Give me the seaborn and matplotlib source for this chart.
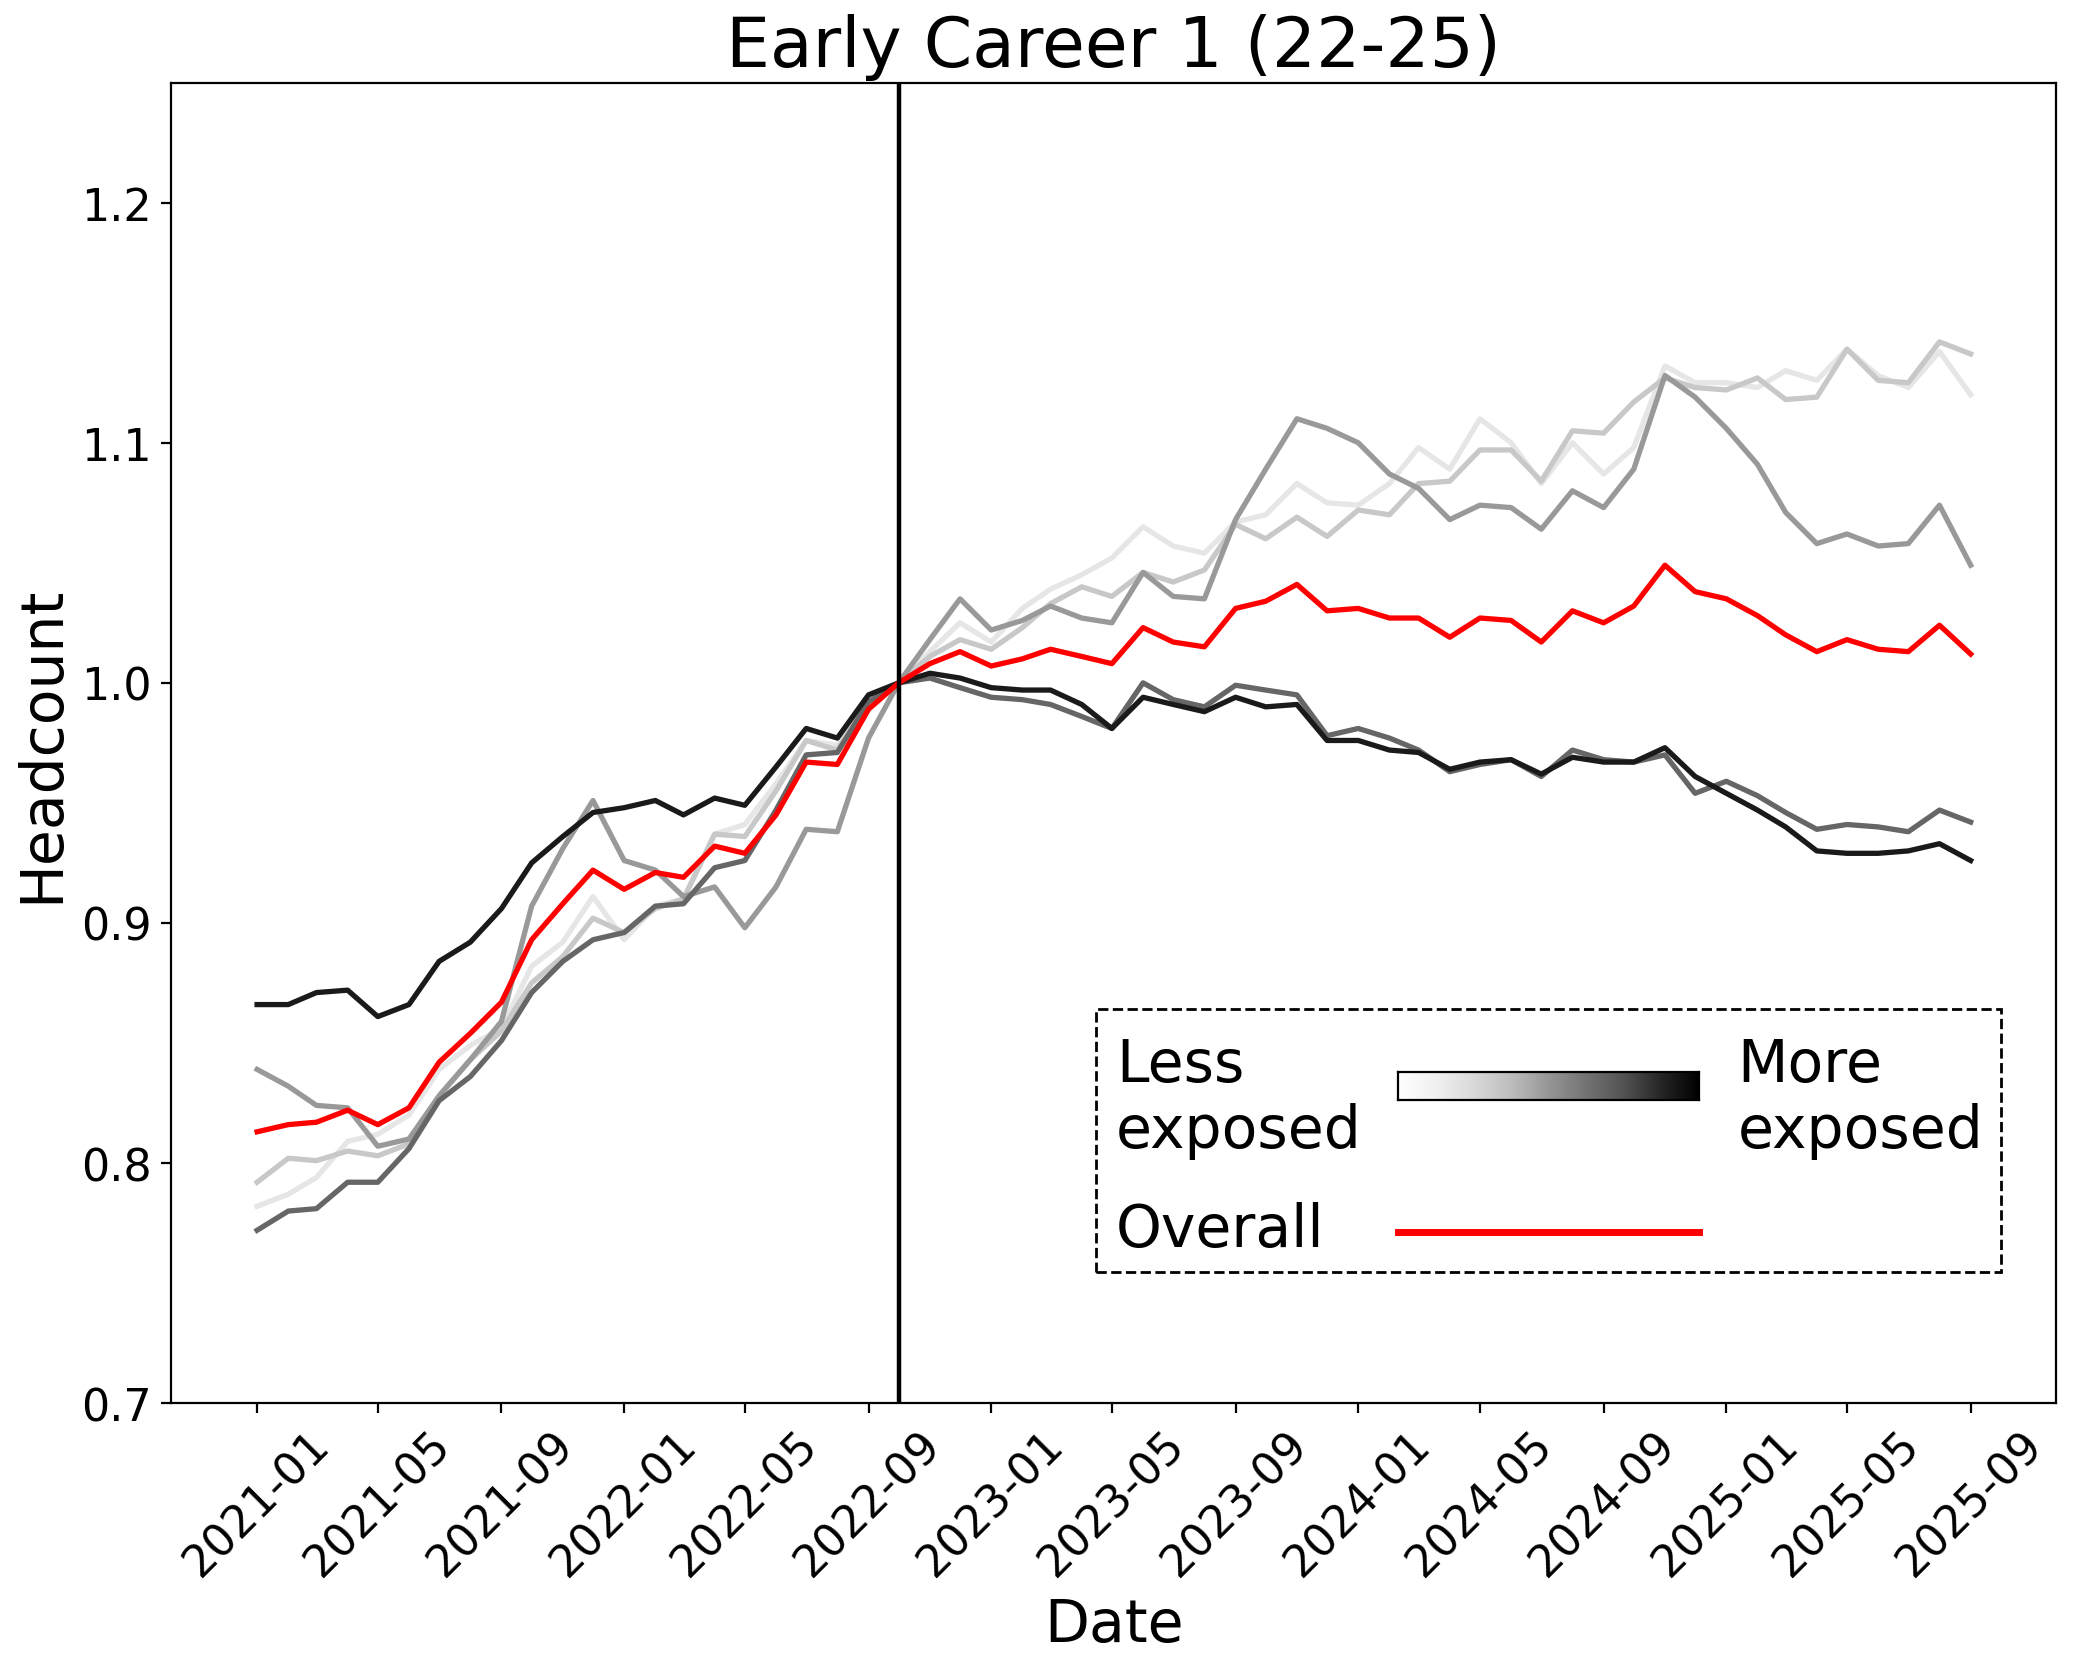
import numpy as np
import pandas as pd
import matplotlib
matplotlib.use('Agg')
import matplotlib.pyplot as plt
import matplotlib.dates as mdates
from matplotlib.patches import Rectangle
import seaborn as sns

# Monthly headcount, normalised to 1.0 at 2022-10, by AI exposure quintile
dates = pd.date_range('2021-01-01', '2025-09-01', freq='MS')
base_date = pd.Timestamp('2022-10-01')

q1_least = [0.782, 0.787, 0.794, 0.809, 0.812, 0.820, 0.839, 0.849, 0.856, 0.882, 0.892, 0.911,
            0.893, 0.907, 0.910, 0.937, 0.941, 0.958, 0.976, 0.974, 0.993,
            1.000, 1.013, 1.025, 1.017, 1.031, 1.039, 1.045, 1.052, 1.065, 1.057, 1.054, 1.067,
            1.070, 1.083, 1.075, 1.074, 1.083, 1.098, 1.089, 1.110, 1.100, 1.083, 1.100, 1.087,
            1.098, 1.132, 1.125, 1.125, 1.123, 1.130, 1.126, 1.139, 1.128, 1.123, 1.138, 1.120]
q2 = [0.792, 0.802, 0.801, 0.805, 0.803, 0.808, 0.828, 0.843, 0.855, 0.875, 0.886, 0.902,
      0.896, 0.906, 0.910, 0.937, 0.936, 0.955, 0.976, 0.972, 0.993,
      1.000, 1.011, 1.018, 1.014, 1.023, 1.033, 1.040, 1.036, 1.046, 1.042, 1.047, 1.066,
      1.060, 1.069, 1.061, 1.072, 1.070, 1.083, 1.084, 1.097, 1.097, 1.084, 1.105, 1.104,
      1.117, 1.127, 1.123, 1.122, 1.127, 1.118, 1.119, 1.139, 1.126, 1.125, 1.142, 1.137]
q3 = [0.839, 0.832, 0.824, 0.823, 0.807, 0.810, 0.828, 0.843, 0.859, 0.907, 0.931, 0.951,
      0.926, 0.922, 0.911, 0.915, 0.898, 0.915, 0.939, 0.938, 0.977,
      1.000, 1.018, 1.035, 1.022, 1.026, 1.032, 1.027, 1.025, 1.046, 1.036, 1.035, 1.068,
      1.089, 1.110, 1.106, 1.100, 1.087, 1.081, 1.068, 1.074, 1.073, 1.064, 1.080, 1.073,
      1.089, 1.128, 1.119, 1.106, 1.091, 1.071, 1.058, 1.062, 1.057, 1.058, 1.074, 1.049]
q4 = [0.772, 0.780, 0.781, 0.792, 0.792, 0.806, 0.826, 0.836, 0.851, 0.871, 0.884, 0.893,
      0.896, 0.907, 0.908, 0.923, 0.926, 0.947, 0.970, 0.971, 0.992,
      1.000, 1.002, 0.998, 0.994, 0.993, 0.991, 0.986, 0.981, 1.000, 0.993, 0.990, 0.999,
      0.997, 0.995, 0.978, 0.981, 0.977, 0.972, 0.963, 0.966, 0.968, 0.961, 0.972, 0.968,
      0.967, 0.970, 0.954, 0.959, 0.953, 0.946, 0.939, 0.941, 0.940, 0.938, 0.947, 0.942]
q5_most = [0.866, 0.866, 0.871, 0.872, 0.861, 0.866, 0.884, 0.892, 0.906, 0.925, 0.936, 0.946,
           0.948, 0.951, 0.945, 0.952, 0.949, 0.965, 0.981, 0.977, 0.995,
           1.000, 1.004, 1.002, 0.998, 0.997, 0.997, 0.991, 0.981, 0.994, 0.991, 0.988, 0.994,
           0.990, 0.991, 0.976, 0.976, 0.972, 0.971, 0.964, 0.967, 0.968, 0.962, 0.969, 0.967,
           0.967, 0.973, 0.961, 0.954, 0.947, 0.940, 0.930, 0.929, 0.929, 0.930, 0.933, 0.926]
overall = [0.813, 0.816, 0.817, 0.822, 0.816, 0.823, 0.842, 0.854, 0.867, 0.893, 0.908, 0.922,
           0.914, 0.921, 0.919, 0.932, 0.929, 0.945, 0.967, 0.966, 0.989,
           1.000, 1.008, 1.013, 1.007, 1.010, 1.014, 1.011, 1.008, 1.023, 1.017, 1.015, 1.031,
           1.034, 1.041, 1.030, 1.031, 1.027, 1.027, 1.019, 1.027, 1.026, 1.017, 1.030, 1.025,
           1.032, 1.049, 1.038, 1.035, 1.028, 1.020, 1.013, 1.018, 1.014, 1.013, 1.024, 1.012]

groups = ['Q1', 'Q2', 'Q3', 'Q4', 'Q5']
grey_colors = ['#e6e6e6', '#c8c8c8', '#999999', '#666666', '#1a1a1a']

df = pd.DataFrame({
    'Date': np.tile(dates, len(groups)),
    'Headcount': np.concatenate([q1_least, q2, q3, q4, q5_most]),
    'Group': np.repeat(groups, len(dates)),
})

fig = plt.figure(figsize=(2083 / 200, 1656 / 200), dpi=200)
ax = fig.add_axes([0.0823, 0.1521, 0.9049, 0.7974])

sns.lineplot(data=df, x='Date', y='Headcount', hue='Group',
             palette=dict(zip(groups, grey_colors)), linewidth=1.9, legend=False, ax=ax)
sns.lineplot(x=dates, y=overall, color='red', linewidth=1.9, ax=ax)
ax.axvline(base_date, color='black', linewidth=1.6)

ax.set_ylim(0.7, 1.25)
ax.set_yticks([0.7, 0.8, 0.9, 1.0, 1.1, 1.2])
ax.xaxis.set_major_locator(mdates.MonthLocator(bymonth=[1, 5, 9]))
ax.xaxis.set_major_formatter(mdates.DateFormatter('%Y-%m'))
ax.tick_params(axis='x', labelrotation=45, labelsize=16)
ax.tick_params(axis='y', labelsize=16)

ax.set_title('Early Career 1 (22-25)', fontsize=25)
ax.set_xlabel('Date', fontsize=21)
ax.set_ylabel('Headcount', fontsize=21)

# hand-made legend: gradient bar for exposure, red line for overall
ax.add_patch(Rectangle((0.4905, 0.0996), 0.48, 0.1992, transform=ax.transAxes,
                       fill=False, linestyle='--', linewidth=1, edgecolor='black', zorder=5))
cax = ax.inset_axes([0.6505, 0.2294, 0.16, 0.0211])
cax.imshow(np.linspace(0, 1, 256)[None, :], aspect='auto', cmap='Greys')
cax.set_xticks([])
cax.set_yticks([])
ax.text(0.501, 0.2314, 'Less\nexposed', transform=ax.transAxes, fontsize=21, va='center', ha='left')
ax.text(0.8309, 0.2314, 'More\nexposed', transform=ax.transAxes, fontsize=21, va='center', ha='left')
ax.text(0.501, 0.1318, 'Overall', transform=ax.transAxes, fontsize=21, va='center', ha='left')
ax.plot([0.6505, 0.8104], [0.1298, 0.1298], transform=ax.transAxes, color='red', linewidth=2.5)

fig.savefig('out.png', dpi=200)
